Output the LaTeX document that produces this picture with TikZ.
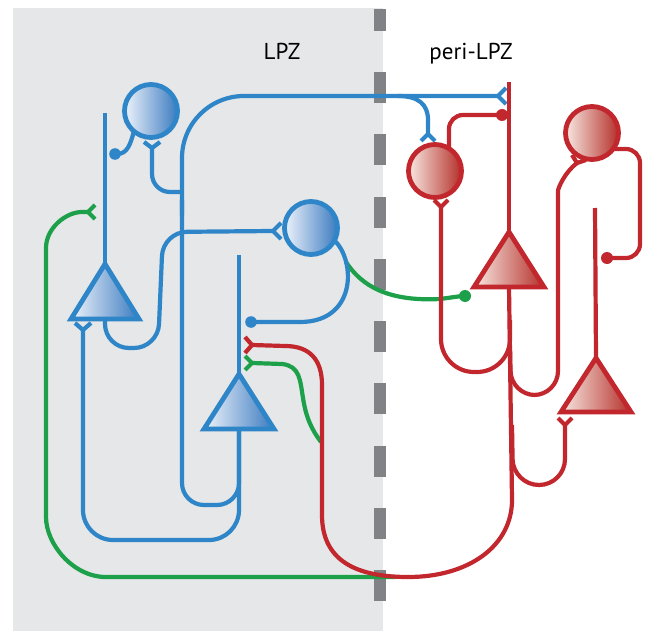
\documentclass[tikz,border=0pt]{standalone}
\usepackage{fontspec}
\newfontfamily\labfont{PT Sans}
\definecolor{bgGray}{HTML}{E6E7E8}
\definecolor{dashGray}{HTML}{808285}
\definecolor{blueC}{HTML}{2E86C8}
\definecolor{blueL}{HTML}{EEF3FB}
\definecolor{blueD}{HTML}{3B7BC0}
\definecolor{redC}{HTML}{C1272D}
\definecolor{redL}{HTML}{F8E8E2}
\definecolor{redD}{HTML}{B5302A}
\definecolor{greenC}{HTML}{1DA04A}
\tikzset{
  bl/.style={draw=blueC, line width=4.2pt},
  rd/.style={draw=redC, line width=4.2pt},
  gr/.style={draw=greenC, line width=4.2pt},
  bcell/.style={circle, inner sep=0pt, minimum size=53pt, draw=blueC, line width=4.8pt, left color=blueL, right color=blueD},
  rcell/.style={circle, inner sep=0pt, minimum size=53pt, draw=redC, line width=4.8pt, left color=redL, right color=redD},
  btri/.style={draw=blueC, line width=4.8pt, left color=blueL, right color=blueD},
  rtri/.style={draw=redC, line width=4.8pt, left color=redL, right color=redD},
  lab/.style={font=\labfont\fontsize{23}{27}\selectfont, anchor=base, inner sep=0pt}
}
\begin{document}
\begin{tikzpicture}[x=1pt,y=-1pt]
\useasboundingbox (0,0) rectangle (652,631);
% background and border
\fill[bgGray] (13,8) rectangle (383,631);
\fill[dashGray] (373.5,9) rectangle (385.5,31);
\foreach \i in {0,...,8} \fill[dashGray] (373.5,{72+62.25*\i}) rectangle (385.5,{103+62.25*\i});
% labels
\node[lab] (lpz) at (282,60) {LPZ};
\node[lab] (peri) at (471,60) {peri-LPZ};
% cell positions
\coordinate (T1a) at (105,264); \coordinate (T1b) at (105,319);
\coordinate (T2a) at (239,374); \coordinate (T2b) at (239,429);
\coordinate (T3a) at (509,232); \coordinate (T3b) at (509,287);
\coordinate (T4a) at (596,358); \coordinate (T4b) at (596,412);
% ---------- green ----------
\draw[gr] (395,577) -- (106,577) .. controls (73,577) and (46,544) .. (46,517) -- (46,248) .. controls (46,228) and (66,212) .. (82,212) -- (88,212);
\draw[gr] (95,205) -- (88,212) -- (95,219);
\draw[gr] (252,363) -- (282,364) .. controls (300,366) and (300,380) .. (303,398) .. controls (306,418) and (312,430) .. (321,442);
\draw[gr] (245,356) -- (252,363) -- (245,370);
\draw[gr] (346,262) .. controls (366,293) and (400,301) .. (440,299) -- (462,296);
\fill[greenC] (465,296) circle (6pt);
% ---------- blue ----------
\draw[bl] (105,113) -- (T1a);
\draw[bl] (239,255) -- (T2a);
\draw[bl, rounded corners=22pt] (T2b) -- (239,505) -- (182,505) -- (182,200);
\draw[bl, rounded corners=62pt] (182,215) -- (182,96) -- (498,96);
\draw[bl, rounded corners=30pt] (T2b) -- (239,540) -- (83,540) -- (83,330);
\draw[bl] (75,323) -- (83,330) -- (91,323);
\draw[bl, rounded corners=18pt] (182,192) -- (152,192) -- (152,148);
\draw[bl] (144,142) -- (152,148) -- (160,142);
\draw[bl] (398,96) .. controls (418,96) and (428,104) .. (428,120) -- (428,134);
\draw[bl] (421,141) -- (428,134) -- (435,141);
\draw[bl] (506,88) -- (498,96) -- (506,104);
\draw[bl, rounded corners=24pt] (T1b) -- (105,348) -- (158,348) -- (163,232) -- (273,231);
\draw[bl] (281,223) -- (273,231) -- (281,239);
\draw[bl] (335,241) .. controls (356,262) and (356,322) .. (300,322) -- (255,322);
\fill[blueC] (251,322) circle (5.8pt);
\draw[bl] (134,131) .. controls (130,146) and (127,153) .. (118,154);
\fill[blueC] (115,154) circle (5.8pt);
% ---------- red ----------
\draw[rd] (509,82) -- (T3a);
\draw[rd] (595,208) -- (T4a);
\draw[rd, rounded corners=14pt] (449,148) -- (449,115) -- (500,115);
\fill[redC] (502,115) circle (6pt);
\draw[rd] (T3b) -- (512,500) .. controls (512,545) and (470,577) .. (408,577) .. controls (355,577) and (322,560) .. (322,515) -- (322,385) .. controls (322,360) and (310,346) .. (285,346) -- (252,345);
\draw[rd] (245,337) -- (252,345) -- (245,353);
\draw[rd, rounded corners=33pt] (441,207) -- (441,372) -- (510,372) -- (510,320);
\draw[rd] (434,200) -- (441,207) -- (448,200);
\draw[rd, rounded corners=24pt] (510,345) -- (511,395) -- (558,395) -- (558,215) .. controls (558,188) and (565,172) .. (577,163);
\draw[rd] (572,155) -- (577,163) -- (586,160);
\draw[rd, rounded corners=26pt] (512,425) -- (513,485) -- (565,485) -- (565,425);
\draw[rd] (558,418) -- (565,425) -- (572,418);
\draw[rd, rounded corners=14pt] (614,149) -- (640,149) -- (640,258) -- (610,258);
\fill[redC] (607,258) circle (6pt);
% ---------- cells ----------
\node[bcell] (A) at (151,111) {};
\node[bcell] (B) at (311,228) {};
\node[rcell] (C) at (435,171) {};
\node[rcell] (D) at (592,133) {};
\path[btri] (T1a) -- (139,319) -- (71,319) -- cycle;
\path[btri] (T2a) -- (274,429) -- (204,429) -- cycle;
\path[rtri] (T3a) -- (544,287) -- (474,287) -- cycle;
\path[rtri] (T4a) -- (631,412) -- (561,412) -- cycle;
\end{tikzpicture}
\end{document}
